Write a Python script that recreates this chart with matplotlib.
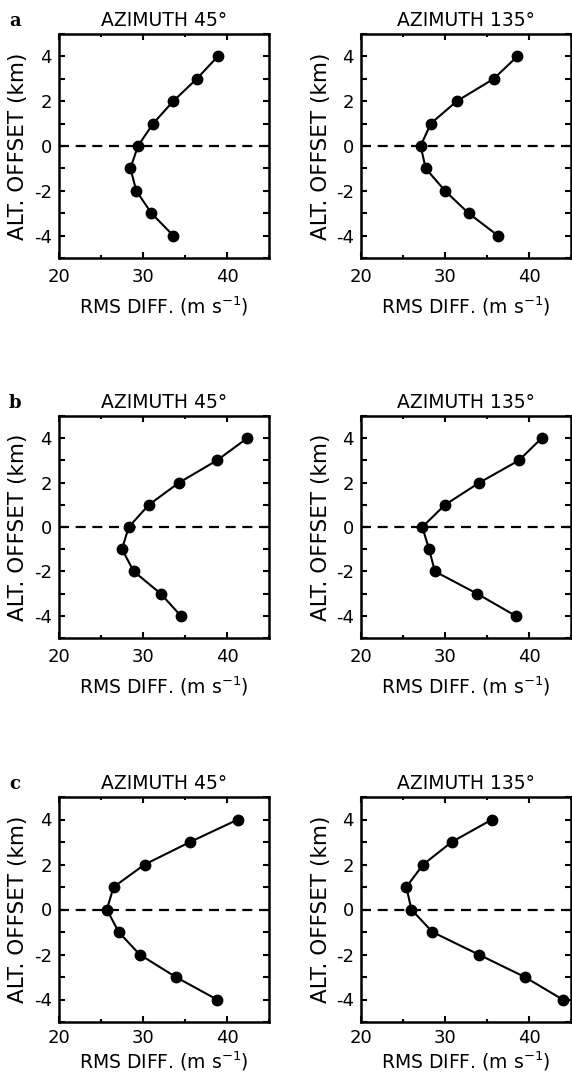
import matplotlib
matplotlib.use("Agg")
import matplotlib.pyplot as plt
from matplotlib.ticker import MultipleLocator

plt.rcParams['axes.unicode_minus'] = False
plt.rcParams['font.family'] = ['DejaVu Sans']

alt_offset = [4, 3, 2, 1, 0, -1, -2, -3, -4]

a_az45 = [38.9, 36.4, 33.6, 31.2, 29.4, 28.5, 29.2, 31.0, 33.6]
a_az135 = [38.6, 35.8, 31.4, 28.3, 27.1, 27.7, 30.0, 32.8, 36.3]
b_az45 = [42.4, 38.8, 34.3, 30.7, 28.3, 27.5, 28.9, 32.1, 34.5]
b_az135 = [41.5, 38.8, 34.1, 30.0, 27.3, 28.1, 28.8, 33.8, 38.4]
c_az45 = [41.3, 35.6, 30.2, 26.5, 25.7, 27.1, 29.6, 33.9, 38.8]
c_az135 = [35.6, 30.8, 27.4, 25.4, 26.0, 28.5, 34.0, 39.5, 44.0]

panel_letters = ['a', 'b', 'c']
titles = ['AZIMUTH 45°', 'AZIMUTH 135°']
xlabel = r'RMS DIFF. (m s$^{\mathregular{-1}}$)'
ylabel = 'ALT. OFFSET (km)'

W, H = 572, 1079
fig = plt.figure(figsize=(W / 100, H / 100), dpi=100)

rows = [
    (a_az45, a_az135, 34, 258),
    (b_az45, b_az135, 416, 638),
    (c_az45, c_az135, 797, 1022),
]
lefts = [59, 361]
width = 210


def yfmt(v, pos):
    return '%d' % v if abs(v % 2) < 1e-6 else ''


for r, (s45, s135, top, bot) in enumerate(rows):
    last = (r == len(rows) - 1)
    for c, series in enumerate([s45, s135]):
        l = lefts[c]
        ax = fig.add_axes([l / W, 1 - bot / H, width / W, (bot - top) / H])
        ax.axhline(0, color='black', lw=1.6, ls=(0, (4.5, 3)), zorder=1)
        ax.plot(series, alt_offset, color='black', lw=1.5, marker='o',
                markersize=7.5, zorder=3, clip_on=False)
        ax.set_xlim(20, 45)
        ax.set_ylim(-5, 5)
        ax.xaxis.set_major_locator(MultipleLocator(10))
        ax.xaxis.set_minor_locator(MultipleLocator(5))
        ax.yaxis.set_major_locator(MultipleLocator(1))
        ax.yaxis.set_major_formatter(plt.FuncFormatter(yfmt))
        ax.tick_params(which='major', direction='in', length=4.5, width=1.5,
                       top=True, right=True, labelsize=13, colors='black')
        ax.tick_params(which='minor', direction='in', length=2.5, width=1.5,
                       top=True, right=True)
        ax.tick_params(axis='x', pad=5 if last else 7)
        ax.tick_params(axis='y', pad=5)
        for sp in ax.spines.values():
            sp.set_linewidth(1.8)
        ax.set_title(titles[c], fontsize=13.5, pad=6)
        ax.set_xlabel(xlabel, fontsize=13.5, labelpad=2 if last else 6)
        ax.set_ylabel(ylabel, fontsize=15.5, labelpad=4)
        if c == 0:
            ax.text(-0.21, 1.058, panel_letters[r], transform=ax.transAxes,
                    fontsize=13, fontweight='bold', family='DejaVu Serif',
                    ha='center', va='center')

fig.savefig('out.png', dpi=100)
